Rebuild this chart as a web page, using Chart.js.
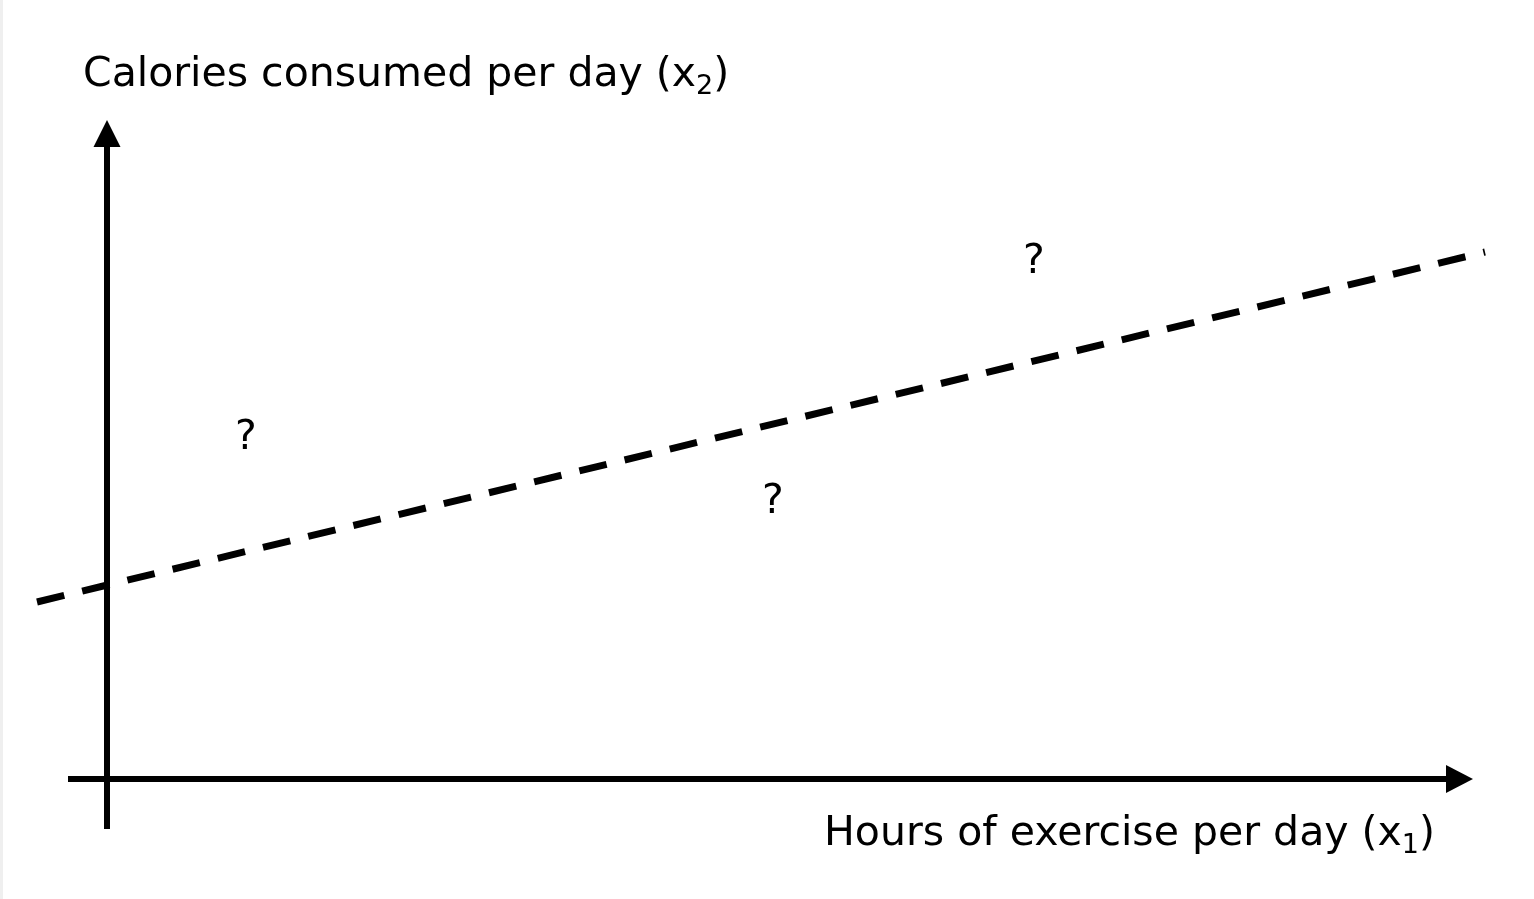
<!DOCTYPE html>
<html>
<head>
<meta charset="utf-8">
<script src="https://cdn.jsdelivr.net/npm/chart.js@4"></script>
<style>
  html,body{margin:0;padding:0;background:#fff;}
  #wrap{width:1531px;height:899px;border-left:3px solid #efefef;}
</style>
</head>
<body>
<div id="wrap"><canvas id="c"></canvas></div>
<script>
// diagram data (x1 = hours of exercise, x2 = calories), arbitrary units
const xAxisLine = [{x:-0.39, y:0}, {x:13.45, y:0}];
const yAxisLine = [{x:0, y:-0.5}, {x:0, y:6.35}];
const boundaryLine = [{x:-0.7, y:1.77}, {x:13.78, y:5.27}];
const unknownPoints = [{x:1.39, y:3.41}, {x:6.66, y:2.77}, {x:9.27, y:5.17}];
const arrowTips = {x:{x:13.66, y:0}, y:{x:0, y:6.59}};
const xLabel = ['Hours of exercise per day (x', '1', ')'];
const yLabel = ['Calories consumed per day (x', '2', ')'];

const FONT = '"DejaVu Sans", sans-serif';

function drawLabel(ctx, parts, x, y, align){
  ctx.save();
  ctx.fillStyle = '#000';
  ctx.textBaseline = 'alphabetic';
  const big = '41px ' + FONT, small = '27px ' + FONT;
  ctx.font = big; const w0 = ctx.measureText(parts[0]).width, w2 = ctx.measureText(parts[2]).width;
  ctx.font = small; const w1 = ctx.measureText(parts[1]).width;
  let sx = align === 'right' ? x - (w0 + w1 + w2) : x;
  ctx.textAlign = 'left';
  ctx.font = big; ctx.fillText(parts[0], sx, y);
  ctx.font = small; ctx.fillText(parts[1], sx + w0, y + 8);
  ctx.font = big; ctx.fillText(parts[2], sx + w0 + w1, y);
  ctx.restore();
}

const diagramPlugin = {
  id:'diagram',
  afterDatasetsDraw(chart){
    const ctx = chart.ctx, xs = chart.scales.x, ys = chart.scales.y;
    ctx.save();
    ctx.fillStyle = '#000';
    // arrow heads
    let tx = xs.getPixelForValue(arrowTips.x.x), ty = ys.getPixelForValue(arrowTips.x.y);
    ctx.beginPath(); ctx.moveTo(tx, ty); ctx.lineTo(tx-27, ty-14); ctx.lineTo(tx-27, ty+14); ctx.closePath(); ctx.fill();
    tx = xs.getPixelForValue(arrowTips.y.x); ty = ys.getPixelForValue(arrowTips.y.y);
    ctx.beginPath(); ctx.moveTo(tx, ty); ctx.lineTo(tx-13.5, ty+27); ctx.lineTo(tx+13.5, ty+27); ctx.closePath(); ctx.fill();
    // question marks
    ctx.font = '41px ' + FONT;
    ctx.textAlign = 'center'; ctx.textBaseline = 'middle';
    unknownPoints.forEach(p => ctx.fillText('?', xs.getPixelForValue(p.x), ys.getPixelForValue(p.y)));
    ctx.restore();
    // axis titles
    drawLabel(ctx, yLabel, 80, 86, 'left');
    drawLabel(ctx, xLabel, 1432, 845, 'right');
  }
};

new Chart(document.getElementById('c'), {
  type:'scatter',
  data:{datasets:[
    {data:xAxisLine, showLine:true, borderColor:'#000', borderWidth:6, pointRadius:0, borderCapStyle:'butt'},
    {data:yAxisLine, showLine:true, borderColor:'#000', borderWidth:6, pointRadius:0, borderCapStyle:'butt'},
    {data:boundaryLine, showLine:true, borderColor:'#000', borderWidth:7, borderDash:[28,18.5], pointRadius:0, borderCapStyle:'butt'},
    {data:unknownPoints, pointRadius:0}
  ]},
  options:{
    responsive:true, maintainAspectRatio:false, animation:false,
    layout:{padding:0},
    plugins:{legend:{display:false}, tooltip:{enabled:false}},
    scales:{
      x:{type:'linear', display:false, min:-1.04, max:14.27},
      y:{type:'linear', display:false, min:-1.20, max:7.79}
    }
  },
  plugins:[diagramPlugin]
});
</script>
</body>
</html>
